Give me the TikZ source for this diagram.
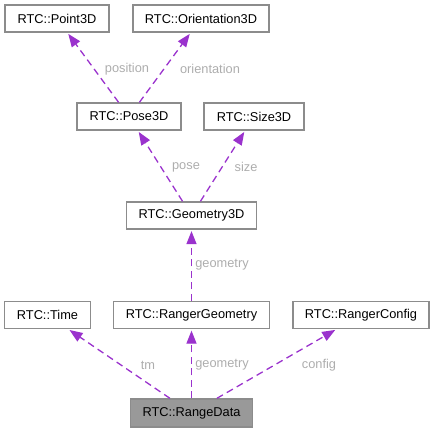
\documentclass[tikz,border=0pt]{standalone}
\usepackage{fontspec}
\setmainfont{Liberation Sans}
\usetikzlibrary{arrows.meta,positioning}
\tikzset{font=\fontsize{12.8}{15}\selectfont}
\tikzset{every node/.append style={transform shape=false}}
\definecolor{depcol}{HTML}{9A32CD}

\begin{document}
\begin{tikzpicture}[x=1pt,y=-1pt,
  cls/.style={draw=black!45,line width=1.3pt,fill=white,minimum height=27pt,inner sep=0pt},
  dep/.style={depcol,dash pattern=on 7pt off 4.5pt,line width=1.3pt,shorten >=1.5pt,-{Triangle[length=13pt,width=10pt]}},
  lbl/.style={text=black!32}]
  \useasboundingbox (0,0) rectangle (435,432);
  % classes
  \node[cls,minimum width=104pt] (point) at (57,18.5) {RTC::Point3D};
  \node[cls,minimum width=136pt] (orient) at (201,18.5) {RTC::Orientation3D};
  \node[cls,minimum width=104pt] (pose) at (129,116.5) {RTC::Pose3D};
  \node[cls,minimum width=100pt] (size) at (254,116.5) {RTC::Size3D};
  \node[cls,minimum width=130pt] (geom) at (191.5,215.5) {RTC::Geometry3D};
  \node[cls,minimum width=86pt] (time) at (47.5,315) {RTC::Time};
  \node[cls,minimum width=156pt] (rgeom) at (191.5,315) {RTC::RangerGeometry};
  \node[cls,minimum width=136pt] (rconf) at (361,315) {RTC::RangerConfig};
  \node[cls,fill=black!40,minimum width=122pt,minimum height=28pt] (rdata) at (191.5,413) {RTC::RangeData};
  % members
  \draw[dep] (pose) -- (point);
  \draw[dep] (pose) -- (orient);
  \draw[dep] (geom) -- (pose);
  \draw[dep] (geom) -- (size);
  \draw[dep] (rgeom) -- (geom);
  \draw[dep] (rdata) -- (time);
  \draw[dep] (rdata) -- (rgeom);
  \draw[dep] (rdata) -- (rconf);
  \node[lbl] at (127,69) {position};
  \node[lbl] at (210,69) {orientation};
  \node[lbl] at (186,167) {pose};
  \node[lbl] at (246,167) {size};
  \node[lbl] at (222,265) {geometry};
  \node[lbl] at (148,365) {tm};
  \node[lbl] at (222,365) {geometry};
  \node[lbl] at (319,365) {config};
\end{tikzpicture}
\end{document}
